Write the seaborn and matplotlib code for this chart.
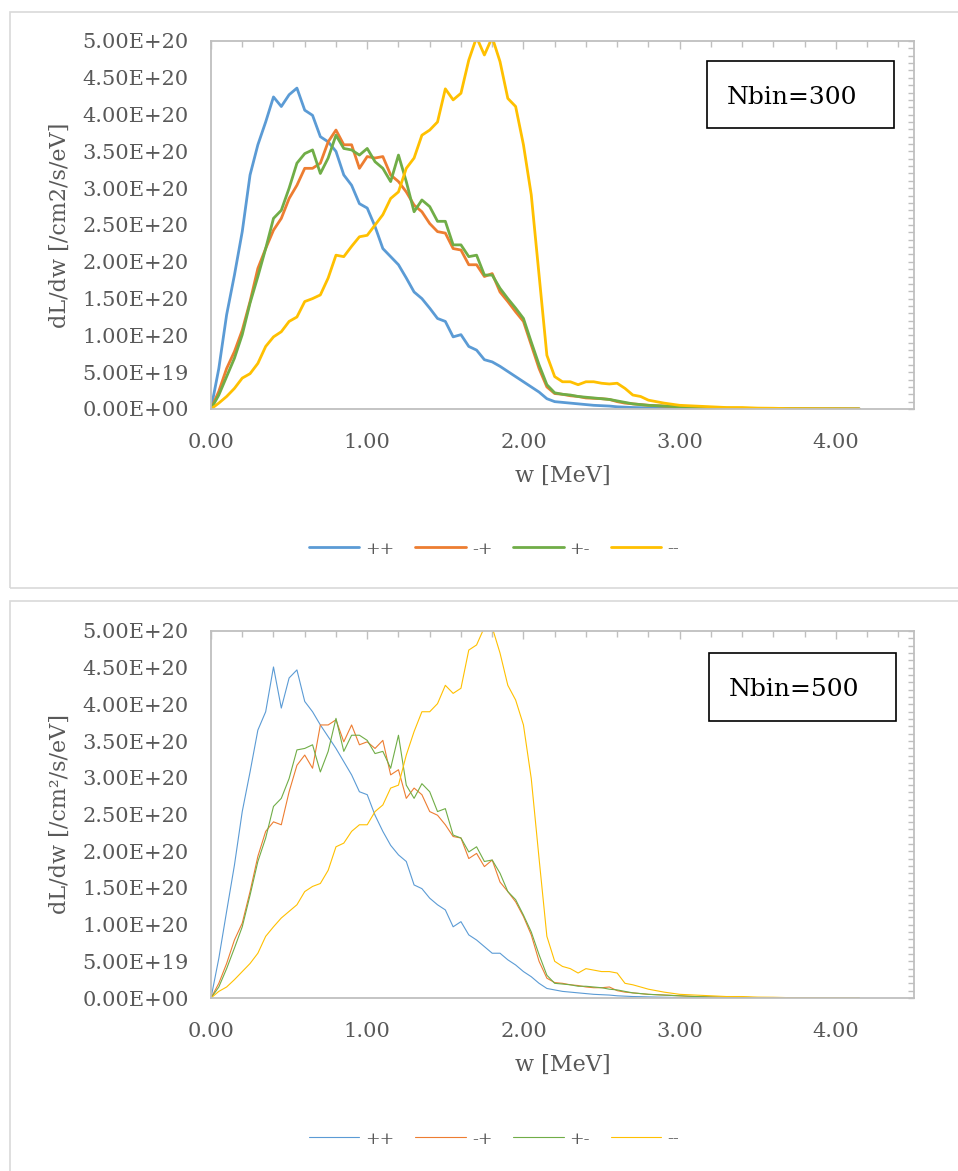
import matplotlib.pyplot as plt
import matplotlib.ticker as ticker
from matplotlib.lines import Line2D
from matplotlib.patches import Rectangle
import numpy as np
import pandas as pd
import seaborn as sns

# photon energy grid [MeV]
w = [0.00, 0.05, 0.10, 0.15, 0.20, 0.25, 0.30, 0.35, 0.40, 0.45,
     0.50, 0.55, 0.60, 0.65, 0.70, 0.75, 0.80, 0.85, 0.90, 0.95,
     1.00, 1.05, 1.10, 1.15, 1.20, 1.25, 1.30, 1.35, 1.40, 1.45,
     1.50, 1.55, 1.60, 1.65, 1.70, 1.75, 1.80, 1.85, 1.90, 1.95,
     2.00, 2.05, 2.10, 2.15, 2.20, 2.25, 2.30, 2.35, 2.40, 2.45,
     2.50, 2.55, 2.60, 2.65, 2.70, 2.75, 2.80, 2.90, 3.00, 3.10,
     3.20, 3.30, 3.40, 3.50, 3.60, 3.70, 3.80, 3.90, 4.00, 4.10,
     4.15]

labels = ["++", "-+", "+-", "--"]
colors = ["#5B9BD5", "#ED7D31", "#70AD47", "#FFC000"]

tail = [0.015, 0.010, 0.008, 0.005, 0.004, 0.003, 0.002, 0.001, 0.001, 0.0,
        0.0]

# Nbin=300, dL/dw in units of 1e20 /cm2/s/eV
pp_300 = [0.0, 0.55, 1.28, 1.82, 2.41, 3.18, 3.59, 3.90, 4.24, 4.11,
          4.27, 4.36, 4.06, 3.99, 3.70, 3.63, 3.50, 3.18, 3.04, 2.79,
          2.73, 2.48, 2.18, 2.07, 1.96, 1.78, 1.59, 1.50, 1.37, 1.23,
          1.19, 0.98, 1.01, 0.85, 0.80, 0.67, 0.64, 0.58, 0.51, 0.44,
          0.37, 0.30, 0.23, 0.14, 0.10, 0.09, 0.08, 0.07, 0.06, 0.05,
          0.045, 0.04, 0.03, 0.025, 0.02, 0.018, 0.015, 0.010, 0.007, 0.005,
          0.004, 0.003, 0.002, 0.002, 0.001, 0.001, 0.001, 0.0, 0.0, 0.0,
          0.0]
mp_300 = [0.0, 0.24, 0.55, 0.78, 1.07, 1.46, 1.91, 2.18, 2.43, 2.59,
          2.86, 3.04, 3.27, 3.27, 3.34, 3.63, 3.79, 3.59, 3.59, 3.27,
          3.43, 3.41, 3.43, 3.18, 3.09, 2.95, 2.77, 2.68, 2.52, 2.41,
          2.39, 2.18, 2.16, 1.96, 1.96, 1.80, 1.84, 1.59, 1.46, 1.32,
          1.19, 0.87, 0.55, 0.30, 0.21, 0.20, 0.18, 0.17, 0.15, 0.145,
          0.14, 0.13, 0.10, 0.08, 0.07, 0.06, 0.05, 0.04, 0.03, 0.02,
          ] + tail
pm_300 = [0.0, 0.19, 0.44, 0.69, 1.01, 1.44, 1.80, 2.18, 2.59, 2.70,
          3.00, 3.34, 3.47, 3.52, 3.20, 3.41, 3.72, 3.54, 3.52, 3.45,
          3.54, 3.36, 3.27, 3.09, 3.45, 3.09, 2.68, 2.84, 2.75, 2.55,
          2.55, 2.23, 2.23, 2.07, 2.09, 1.82, 1.82, 1.64, 1.50, 1.37,
          1.23, 0.91, 0.60, 0.33, 0.22, 0.20, 0.19, 0.17, 0.16, 0.15,
          0.14, 0.13, 0.11, 0.09, 0.07, 0.06, 0.05, 0.04, 0.03, 0.02,
          ] + tail
mm_300 = [0.0, 0.08, 0.17, 0.28, 0.42, 0.48, 0.62, 0.85, 0.98, 1.05,
          1.19, 1.25, 1.46, 1.50, 1.55, 1.78, 2.09, 2.07, 2.21, 2.34,
          2.36, 2.50, 2.64, 2.86, 2.95, 3.27, 3.41, 3.72, 3.79, 3.90,
          4.35, 4.20, 4.29, 4.74, 5.05, 4.81, 5.05, 4.72, 4.22, 4.11,
          3.59, 2.91, 1.82, 0.73, 0.44, 0.37, 0.37, 0.33, 0.37, 0.37,
          0.35, 0.34, 0.35, 0.28, 0.19, 0.17, 0.12, 0.08, 0.05, 0.04,
          0.03, 0.02, 0.02, 0.012, 0.01, 0.005, 0.004, 0.003, 0.002, 0.001,
          0.0]

# Nbin=500
pp_500 = [0.0, 0.54, 1.18, 1.81, 2.54, 3.08, 3.65, 3.90, 4.51, 3.95,
          4.36, 4.47, 4.04, 3.90, 3.72, 3.56, 3.40, 3.22, 3.04, 2.81,
          2.77, 2.49, 2.27, 2.08, 1.95, 1.86, 1.54, 1.49, 1.36, 1.27,
          1.20, 0.97, 1.04, 0.86, 0.79, 0.70, 0.61, 0.61, 0.52, 0.45,
          0.36, 0.29, 0.20, 0.13, 0.11, 0.09, 0.08, 0.07, 0.06, 0.05,
          0.045, 0.04, 0.03, 0.025, 0.02, 0.018, 0.015, 0.010, 0.007, 0.005,
          0.004, 0.003, 0.002, 0.002, 0.001, 0.001, 0.001, 0.0, 0.0, 0.0,
          0.0]
mp_500 = [0.0, 0.20, 0.47, 0.79, 1.02, 1.45, 1.93, 2.27, 2.40, 2.36,
          2.81, 3.17, 3.31, 3.13, 3.72, 3.72, 3.79, 3.49, 3.72, 3.45,
          3.49, 3.40, 3.51, 3.04, 3.11, 2.72, 2.86, 2.77, 2.54, 2.49,
          2.36, 2.20, 2.18, 1.90, 1.97, 1.79, 1.88, 1.58, 1.45, 1.31,
          1.11, 0.86, 0.50, 0.27, 0.21, 0.20, 0.18, 0.17, 0.15, 0.14,
          0.14, 0.15, 0.10, 0.08, 0.07, 0.06, 0.05, 0.04, 0.03, 0.02,
          ] + tail
pm_500 = [0.0, 0.15, 0.40, 0.68, 0.97, 1.40, 1.86, 2.18, 2.61, 2.72,
          2.99, 3.38, 3.40, 3.45, 3.08, 3.36, 3.81, 3.36, 3.58, 3.58,
          3.51, 3.33, 3.36, 3.13, 3.58, 2.90, 2.72, 2.92, 2.81, 2.54,
          2.58, 2.22, 2.18, 1.99, 2.06, 1.86, 1.88, 1.70, 1.45, 1.34,
          1.13, 0.90, 0.59, 0.31, 0.20, 0.19, 0.18, 0.16, 0.16, 0.15,
          0.14, 0.12, 0.11, 0.09, 0.07, 0.06, 0.05, 0.04, 0.03, 0.02,
          ] + tail
mm_500 = [0.0, 0.09, 0.15, 0.25, 0.36, 0.47, 0.61, 0.84, 0.97, 1.09,
          1.18, 1.27, 1.45, 1.52, 1.56, 1.74, 2.06, 2.11, 2.27, 2.36,
          2.36, 2.54, 2.63, 2.86, 2.90, 3.31, 3.63, 3.90, 3.90, 4.01,
          4.26, 4.15, 4.22, 4.74, 4.81, 5.05, 5.05, 4.70, 4.26, 4.06,
          3.72, 2.99, 1.90, 0.84, 0.50, 0.43, 0.40, 0.34, 0.40, 0.38,
          0.36, 0.36, 0.34, 0.20, 0.18, 0.15, 0.12, 0.08, 0.05, 0.04,
          0.03, 0.02, 0.02, 0.012, 0.01, 0.005, 0.004, 0.003, 0.002, 0.001,
          0.0]

GREY_TXT = "#595959"
GREY_AX = "#BFBFBF"


def make_frame(series):
    """Long-format table for seaborn."""
    parts = []
    for lab, vals in zip(labels, series):
        parts.append(pd.DataFrame({
            "w": w,
            "dLdw": np.array(vals) * 1e20,
            "pol": lab,
        }))
    return pd.concat(parts, ignore_index=True)


def draw_panel(ax, series, lw, ylabel):
    df = make_frame(series)
    sns.lineplot(data=df, x="w", y="dLdw", hue="pol", hue_order=labels,
                 palette=colors, linewidth=lw, estimator=None, sort=False,
                 legend=False, ax=ax)

    ax.set_xlim(0, 4.5)
    ax.set_ylim(0, 5e20)
    ax.xaxis.set_major_locator(ticker.MultipleLocator(1))
    ax.xaxis.set_minor_locator(ticker.MultipleLocator(0.2))
    ax.yaxis.set_major_locator(ticker.MultipleLocator(0.5e20))
    ax.yaxis.set_minor_locator(ticker.MultipleLocator(0.1e20))
    ax.xaxis.set_major_formatter(ticker.FuncFormatter(lambda v, p: f"{v:.2f}"))
    ax.yaxis.set_major_formatter(ticker.FuncFormatter(lambda v, p: f"{v:.2E}"))

    ax.tick_params(axis="both", which="both", direction="in", top=True,
                   right=True, color=GREY_AX, labelcolor=GREY_TXT, width=1)
    ax.tick_params(axis="x", which="major", length=6, pad=17, labelsize=15)
    ax.tick_params(axis="x", which="minor", length=4)
    ax.tick_params(axis="y", which="major", length=4.5, pad=16, labelsize=15)
    ax.tick_params(axis="y", which="minor", length=4)
    for sp in ax.spines.values():
        sp.set_visible(True)
        sp.set_color(GREY_AX)
        sp.set_linewidth(1.3)

    ax.set_xlabel("w [MeV]", fontsize=16, color=GREY_TXT)
    ax.set_ylabel(ylabel, fontsize=16, color=GREY_TXT)
    ax.xaxis.set_label_coords(0.5, -0.152)
    ax.yaxis.set_label_coords(-0.199, 0.5)


def main():
    sns.set_style("white")
    plt.rcParams["font.family"] = ["DejaVu Serif"]

    W, H = 958, 1171
    fig = plt.figure(figsize=(W / 100, H / 100), dpi=100)

    # chart area frames (Excel style)
    fig.add_artist(Rectangle((10 / W, 1 - 588 / H), 1.0, 576 / H, fill=False,
                             ec="#D9D9D9", lw=1.2, transform=fig.transFigure))
    fig.add_artist(Rectangle((10 / W, -0.01), 1.0, 570 / H + 0.01,
                             fill=False, ec="#D9D9D9", lw=1.2,
                             transform=fig.transFigure))

    ax1 = fig.add_axes([211 / W, 1 - 409 / H, 703 / W, 368 / H])
    ax2 = fig.add_axes([211 / W, 1 - 998 / H, 703 / W, 367 / H])

    draw_panel(ax1, [pp_300, mp_300, pm_300, mm_300], 2.0,
               "dL/dw [/cm2/s/eV]")
    draw_panel(ax2, [pp_500, mp_500, pm_500, mm_500], 0.8,
               "dL/dw [/cm\u00b2/s/eV]")

    # Nbin boxes
    for (x0, y0, x1, y1, tx, ty, txt) in [
            (707, 61, 894, 128, 727, 97, "Nbin=300"),
            (709, 653, 896, 721, 729, 689, "Nbin=500")]:
        fig.add_artist(Rectangle((x0 / W, 1 - y1 / H), (x1 - x0) / W,
                                 (y1 - y0) / H, fill=False, ec="black",
                                 lw=1.2, transform=fig.transFigure))
        fig.text(tx / W, 1 - ty / H, txt, ha="left", va="center",
                 fontsize=18, color="black")

    # legends below each chart
    for lw, ly in [(2.0, 549), (0.8, 1139)]:
        handles = [Line2D([0], [0], color=c, lw=lw) for c in colors]
        fig.legend(handles, labels, loc="center",
                   bbox_to_anchor=(494 / W, 1 - ly / H), ncol=4,
                   frameon=False, fontsize=12.5, handlelength=2.9,
                   handletextpad=0.35, columnspacing=1.2,
                   labelcolor=GREY_TXT)

    fig.savefig("out.png", dpi=100, facecolor="white")


if __name__ == "__main__":
    main()
